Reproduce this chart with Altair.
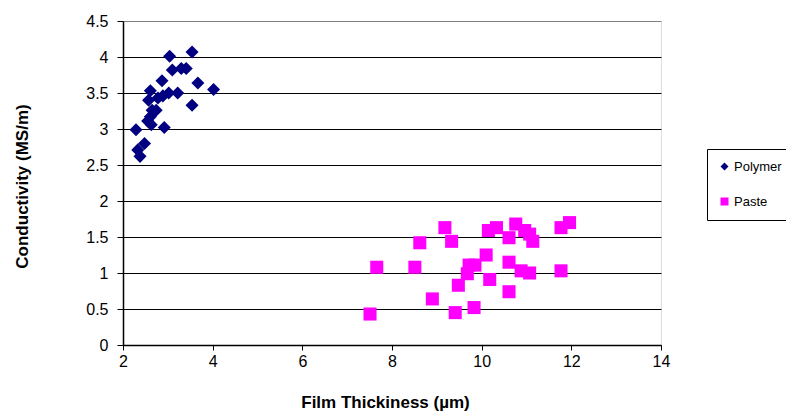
import altair as alt
import pandas as pd

# Polymer series (film thickness in µm, conductivity in MS/m)
polymer_x = [3.04, 3.54, 3.10, 3.30, 3.41, 2.87, 3.67, 4.02, 2.61, 3.02, 3.22, 2.89, 2.78,
             2.57, 3.54, 2.65, 2.74, 2.61, 2.55, 2.63, 2.92, 2.29, 2.48, 2.33, 2.38]
polymer_y = [4.01, 4.07, 3.82, 3.84, 3.84, 3.67, 3.64, 3.55, 3.53, 3.50, 3.50, 3.46, 3.43,
             3.40, 3.33, 3.26, 3.26, 3.17, 3.11, 3.06, 3.02, 2.99, 2.80, 2.71, 2.62]

# Paste series
paste_x = [7.51, 7.66, 8.51, 8.62, 8.90, 9.18, 9.33, 9.41, 9.48, 9.68, 9.72, 9.85, 9.83,
           10.10, 10.15, 10.18, 10.33, 10.61, 10.61, 10.61, 10.76, 10.88, 10.96, 11.07,
           11.07, 11.14, 11.77, 11.96, 11.77]
paste_y = [0.43, 1.08, 1.08, 1.42, 0.64, 1.63, 1.44, 0.45, 0.83, 0.99, 1.11, 1.11, 0.52,
           1.25, 1.59, 0.91, 1.63, 1.49, 1.15, 0.74, 1.68, 1.03, 1.59, 1.54, 1.00, 1.44,
           1.63, 1.70, 1.03]

series_names = ["Polymer", "Paste"]
series_colors = ["#000080", "#FF00FF"]
series_shapes = ["diamond", "square"]

x_ticks = [2, 4, 6, 8, 10, 12, 14]
y_ticks = [0, 0.5, 1, 1.5, 2, 2.5, 3, 3.5, 4, 4.5]

df = pd.concat([
    pd.DataFrame({"x": polymer_x, "y": polymer_y, "Series": "Polymer"}),
    pd.DataFrame({"x": paste_x, "y": paste_y, "Series": "Paste"}),
])

FONT = "Liberation Sans"

legend_opts = dict(title=None, orient="none", legendX=584, legendY=128,
                   strokeColor="black", fillColor="white", padding=11,
                   rowPadding=21, symbolSize=64, symbolStrokeWidth=0,
                   labelFont=FONT, labelFontSize=13, labelColor="black",
                   labelOffset=3)

points = alt.Chart(df).mark_point(filled=True, size=170, opacity=1, strokeWidth=0).encode(
    x=alt.X("x:Q",
            scale=alt.Scale(domain=[2, 14], nice=False, zero=False),
            axis=alt.Axis(values=x_ticks, title="Film Thickiness (µm)", grid=False,
                          labelFlush=False,
                          domainColor="black", domainWidth=1.5, tickColor="black",
                          tickSize=5, tickWidth=1, labelPadding=3,
                          labelFont=FONT, labelFontSize=16, labelColor="black",
                          titleFont=FONT, titleFontSize=17, titleFontWeight="bold",
                          titleColor="black", titleX=262, titleY=62,
                          titleBaseline="alphabetic")),
    y=alt.Y("y:Q",
            scale=alt.Scale(domain=[0, 4.5], nice=False, zero=True),
            axis=alt.Axis(values=y_ticks, format="~g", title="Conductivity (MS/m)",
                          grid=True, gridWidth=1, labelFlush=False,
                          gridColor={"condition": {"test": "datum.value >= 4.5", "value": "#808080"},
                                     "value": "black"},
                          domainColor="black", domainWidth=1.5, tickColor="black",
                          tickSize=6, tickWidth=1, labelPadding=9,
                          labelFont=FONT, labelFontSize=16, labelColor="black",
                          titleFont=FONT, titleFontSize=17, titleFontWeight="bold",
                          titleColor="black", titleX=-96, titleY=165,
                          titleAngle=-90, titleBaseline="alphabetic")),
    color=alt.Color("Series:N",
                    scale=alt.Scale(domain=series_names, range=series_colors),
                    legend=alt.Legend(**legend_opts)),
    shape=alt.Shape("Series:N",
                    scale=alt.Scale(domain=series_names, range=series_shapes),
                    legend=alt.Legend(**legend_opts)),
)

chart = points.properties(
    width=538, height=324,
    autosize=alt.AutoSizeParams(type="none"),
    padding={"left": 115, "top": 13, "right": 125, "bottom": 66},
).configure_view(
    stroke="#808080", strokeWidth=1.5
).configure(background="white")

chart.save("out.html", embed_options={"renderer": "svg", "actions": False})
